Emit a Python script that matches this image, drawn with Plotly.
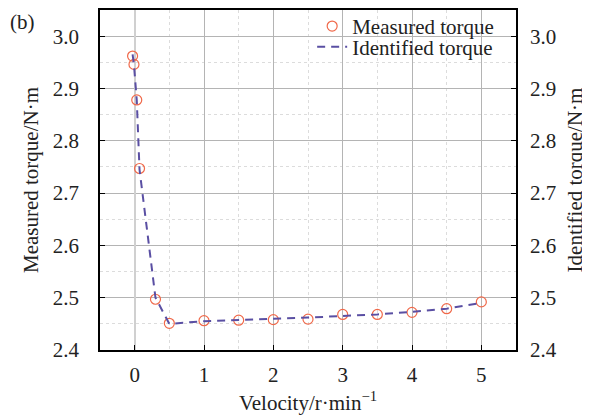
import plotly.graph_objects as go

# Data
velocity = [-0.03, -0.01, 0.03, 0.07, 0.3, 0.5, 1, 1.5, 2, 2.5, 3, 3.5, 4, 4.5, 5]
measured_torque = [2.962, 2.946, 2.878, 2.747, 2.497, 2.451, 2.456, 2.457, 2.458,
                   2.459, 2.468, 2.468, 2.472, 2.479, 2.492]
identified_torque = [2.965, 2.945, 2.878, 2.745, 2.500, 2.450, 2.455, 2.457, 2.459,
                     2.462, 2.465, 2.468, 2.473, 2.479, 2.490]
x_ticks = [0, 1, 2, 3, 4, 5]
y_ticks = [2.4, 2.5, 2.6, 2.7, 2.8, 2.9, 3.0]

FONT = '"Liberation Serif", "Times New Roman", Times, serif'
FS = 21

fig = go.Figure()
fig.add_trace(go.Scatter(
    x=velocity, y=measured_torque, mode="markers", name="Measured torque",
    marker=dict(symbol="circle-open", size=10, color="#f0694a",
                line=dict(width=1.2, color="#f0694a")),
    legend="legend", showlegend=True,
))
fig.add_trace(go.Scatter(
    x=velocity, y=identified_torque, mode="lines", name="Identified torque",
    line=dict(color="#5a4fa3", width=2, dash="8px,6px"), yaxis="y2",
    legend="legend2", showlegend=True,
))

axis_common = dict(
    showline=True, linecolor="black", linewidth=1.5,
    ticks="inside", ticklen=5, tickcolor="black", tickwidth=1.2,
    tickfont=dict(family=FONT, size=FS, color="#222"),
    automargin=False,
)

# page body adds an 8px offset, so the figure is 8px smaller than the window
fig.update_layout(
    width=582, height=409,
    margin=dict(l=92, r=74, t=2, b=67, autoexpand=False),
    paper_bgcolor="white", plot_bgcolor="white",
    font=dict(family=FONT, size=FS, color="#222"),
    showlegend=True,
    xaxis=dict(
        range=[-0.5, 5.5], tickvals=x_ticks, mirror=True,
        showgrid=True, gridcolor="#b4b4b4", gridwidth=1,
        zeroline=True, zerolinecolor="#d0d0d0", zerolinewidth=2,
        minor=dict(dtick=0.5, showgrid=True, gridcolor="#dcdcdc",
                   griddash="dot", gridwidth=1, ticks=""),
        title=dict(text="Velocity/r·min<sup>−1</sup>", standoff=9,
                   font=dict(family=FONT, size=FS, color="#222")),
        ticklabelstandoff=5,
        **axis_common,
    ),
    yaxis=dict(
        range=[2.4, 3.05], tickvals=y_ticks, tickformat=".1f",
        showgrid=True, gridcolor="#b4b4b4", gridwidth=1, zeroline=False,
        minor=dict(dtick=0.05, showgrid=True, gridcolor="#dcdcdc",
                   griddash="dot", gridwidth=1, ticks=""),
        title=dict(text="Measured torque/N·m", standoff=8,
                   font=dict(family=FONT, size=FS, color="#222")),
        ticklabelstandoff=15,
        **axis_common,
    ),
    yaxis2=dict(
        range=[2.4, 3.05], tickvals=y_ticks, tickformat=".1f",
        overlaying="y", side="right", showgrid=False, zeroline=False,
        title=dict(text="Identified torque/N·m", standoff=12,
                   font=dict(family=FONT, size=FS, color="#222")),
        ticklabelstandoff=8,
        **axis_common,
    ),
    legend=dict(x=0.51, y=1.012, xanchor="left", yanchor="top",
                bgcolor="rgba(0,0,0,0)", borderwidth=0,
                font=dict(family=FONT, size=FS), tracegroupgap=0),
    legend2=dict(x=0.51, y=0.951, xanchor="left", yanchor="top",
                 bgcolor="rgba(0,0,0,0)", borderwidth=0,
                 font=dict(family=FONT, size=FS), tracegroupgap=0),
    shapes=[dict(type="rect", xref="paper", yref="paper",
                 x0=0.512, x1=0.974, y0=0.862, y1=0.995,
                 fillcolor="white", line=dict(width=0), layer="between")],
    annotations=[dict(text="(b)", xref="paper", yref="paper",
                      x=-0.221, y=0.965, xanchor="left", yanchor="middle",
                      showarrow=False, font=dict(family=FONT, size=FS))],
)

fig.write_html("out.html")
